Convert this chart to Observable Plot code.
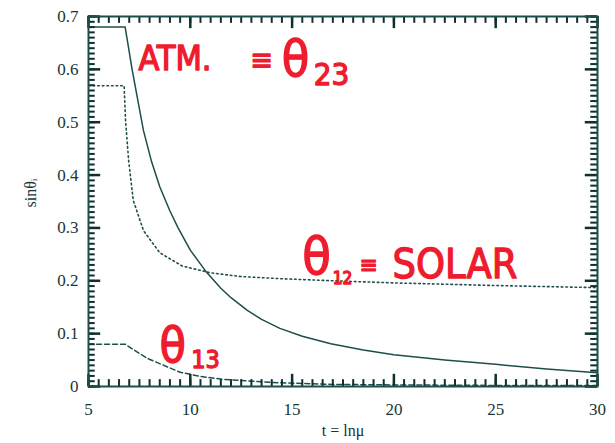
<!DOCTYPE html>
<html><head>
<meta charset="utf-8">
<script src="https://cdn.jsdelivr.net/npm/d3@7"></script>
<script src="https://cdn.jsdelivr.net/npm/@observablehq/plot@0.6"></script>
<style>body{margin:0;background:#fff}</style>
</head><body><div id="chart"></div>
<script>
// theta_23 (solid)
const atmT = [5, 6.8, 7.15, 7.7, 8.1, 8.5, 9.0, 9.4, 10, 10.8, 11.5, 12, 12.8, 13.5, 14.4, 15.5, 16.9, 18.5, 20, 22.5, 25, 27.5, 30];
const atmV = [0.68, 0.68, 0.598, 0.484, 0.425, 0.378, 0.332, 0.30, 0.258, 0.216, 0.186, 0.168, 0.144, 0.127, 0.11, 0.095, 0.081, 0.069, 0.06, 0.05, 0.042, 0.033, 0.026];
// theta_12 (dotted)
const solT = [5, 6.75, 6.82, 6.97, 7.2, 7.7, 8.5, 9.6, 11, 12.5, 14.4, 17, 20, 25, 30];
const solV = [0.569, 0.569, 0.503, 0.428, 0.352, 0.295, 0.253, 0.228, 0.215, 0.208, 0.204, 0.2, 0.196, 0.191, 0.187];
// theta_13 (dashed)
const t13T = [5, 6.8, 7.4, 7.9, 8.7, 9.5, 10.5, 11.5, 13, 14.4, 17, 20, 25, 30];
const t13V = [0.08, 0.08, 0.065, 0.053, 0.04, 0.027, 0.019, 0.014, 0.01, 0.007, 0.004, 0.003, 0.002, 0.002];

const xTicks = [5, 10, 15, 20, 25, 30];
const yTicks = [0, 0.1, 0.2, 0.3, 0.4, 0.5, 0.6, 0.7];
const yTickLabels = ["0", "0.1", "0.2", "0.3", "0.4", "0.5", "0.6", "0.7"];
const xMinor = d3.range(5, 30.01, 0.5);
const yMinor = d3.range(0, 0.7001, 0.01);

// handwritten annotations
const annStart = [
  {x: 7.456, y: 0.619, text: "ATM.", size: 34},
  {x: 19.93, y: 0.231, text: "SOLAR", size: 41}
];
const annMid = [
  {x: 13.5, y: 0.617, text: "≡", size: 30},
  {x: 15.17, y: 0.617, text: "θ", size: 50},
  {x: 16.94, y: 0.590, text: "23", size: 31},
  {x: 16.2, y: 0.244, text: "θ", size: 52},
  {x: 17.48, y: 0.204, text: "12", size: 17},
  {x: 18.75, y: 0.229, text: "≡", size: 24},
  {x: 9.13, y: 0.0757, text: "θ", size: 48},
  {x: 10.75, y: 0.051, text: "13", size: 25}
];

const ink = "#1d4e4b";
const tickInk = "#0f302e";
const red = "#ee1c2e";
const toRows = (ts, vs) => ts.map((t, i) => ({t, v: vs[i]}));
const handFont = "'DejaVu Sans Condensed', 'DejaVu Sans', sans-serif";

// tick lengths in data units (plot area is 509 x 370 px for [5,30] x [0,0.7])
const minorLenY = 0.013, majorLenY = 0.023;   // vertical ticks on x axes
const minorLenX = 0.33, majorLenX = 0.6;      // horizontal ticks on y axes

const chart = Plot.plot({
  width: 615, height: 443,
  marginLeft: 88, marginRight: 18, marginTop: 16, marginBottom: 57,
  x: {domain: [5, 30]},
  y: {domain: [0, 0.7]},
  marks: [
    // tick labels
    Plot.axisX(xTicks, {anchor: "bottom", tickSize: 0, tickPadding: 16, fontSize: 17, fill: "#1a3535", fontFamily: "'Liberation Serif', serif", label: null, tickFormat: d => String(d)}),
    Plot.axisY(yTicks, {anchor: "left", tickSize: 0, tickPadding: 10, fontSize: 17, fill: "#1a3535", fontFamily: "'Liberation Serif', serif", label: null, tickFormat: (d, i) => yTickLabels[i]}),
    // axis titles
    Plot.text(["t = lnμ"], {frameAnchor: "bottom", dy: 49, fontSize: 16, fill: "#1a3535", fontFamily: "'Liberation Serif', serif"}),
    Plot.text(["sinθᵢ"], {frameAnchor: "left", dx: -58, dy: 6, rotate: -90, fontSize: 16, fill: "#1a3535", fontFamily: "'Liberation Serif', serif"}),
    // curves
    Plot.line(toRows(atmT, atmV), {x: "t", y: "v", stroke: ink, strokeWidth: 1.5}),
    Plot.line(toRows(solT, solV), {x: "t", y: "v", stroke: ink, strokeWidth: 1.6, strokeDasharray: "1.6,3"}),
    Plot.line(toRows(t13T, t13V), {x: "t", y: "v", stroke: ink, strokeWidth: 1.5, strokeDasharray: "5,3"}),
    // inward tick marks on all four sides
    Plot.ruleX(xMinor, {x: d => d, y1: 0, y2: minorLenY, stroke: tickInk, strokeWidth: 2}),
    Plot.ruleX(xMinor, {x: d => d, y1: 0.7, y2: 0.7 - minorLenY, stroke: tickInk, strokeWidth: 2}),
    Plot.ruleY(yMinor, {y: d => d, x1: 5, x2: 5 + minorLenX, stroke: tickInk, strokeWidth: 2}),
    Plot.ruleY(yMinor, {y: d => d, x1: 30, x2: 30 - minorLenX, stroke: tickInk, strokeWidth: 2}),
    Plot.ruleX(xTicks, {x: d => d, y1: 0, y2: majorLenY, stroke: tickInk, strokeWidth: 2.5}),
    Plot.ruleX(xTicks, {x: d => d, y1: 0.7, y2: 0.7 - majorLenY, stroke: tickInk, strokeWidth: 2.5}),
    Plot.ruleY(yTicks, {y: d => d, x1: 5, x2: 5 + majorLenX, stroke: tickInk, strokeWidth: 2.5}),
    Plot.ruleY(yTicks, {y: d => d, x1: 30, x2: 30 - majorLenX, stroke: tickInk, strokeWidth: 2.5}),
    Plot.frame({stroke: ink, strokeWidth: 2}),
    // annotations
    Plot.text(annStart, {x: "x", y: "y", text: "text", fontSize: "size", textAnchor: "start", fill: red, stroke: red, strokeWidth: 1.3, fontFamily: handFont}),
    Plot.text(annMid, {x: "x", y: "y", text: "text", fontSize: "size", fill: red, stroke: red, strokeWidth: 1.3, fontFamily: handFont})
  ]
});
document.getElementById("chart").appendChild(chart);
</script>
</body></html>
